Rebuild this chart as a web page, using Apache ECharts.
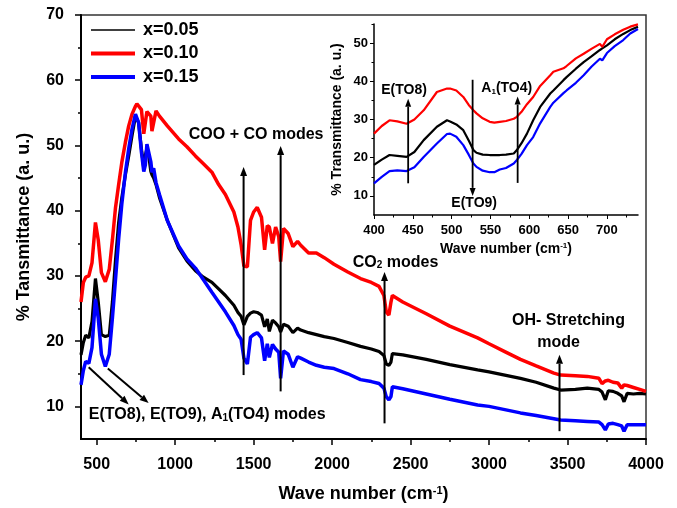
<!DOCTYPE html>
<html>
<head>
<meta charset="utf-8">
<script src="https://cdn.jsdelivr.net/npm/echarts@6/dist/echarts.min.js"></script>
<style>html,body{margin:0;padding:0;background:#fff}#c{width:677px;height:508px}</style>
</head>
<body>
<div id="c"></div>
<script>
// ---- Main spectrum (wave number, cm-1) ----
const wnMain = [400,415,430,450,470,492,510,530,555,580,600,620,640,660,683,704,725,747,756,767,785,800,810,820,831,845,852,863,878,900,950,1022,1075,1129,1180,1234,1277,1320,1374,1400,1420,1438,1460,1480,1500,1523,1550,1570,1587,1600,1620,1640,1660,1672,1690,1720,1750,1780,1800,1850,1900,1950,2012,2100,2181,2250,2299,2330,2345,2362,2375,2384,2450,2600,2750,2927,3000,3100,3200,3300,3413,3456,3550,3626,3700,3720,3741,3760,3790,3820,3845,3860,3880,3920,3960,4000];
const t005 = [17.9,19.8,20.9,20.5,23.0,29.6,26.0,21.0,20.7,20.9,26.0,32.5,38.2,42.0,45.5,48.4,51.5,54.5,54.8,53.5,49.5,46.5,48.5,49.5,48.5,46.0,45.5,45.0,44.0,42.0,38.5,34.3,32.3,30.8,29.8,29.0,28.0,27.0,25.5,24.4,23.8,22.5,23.8,24.3,24.5,24.4,24.0,22.2,23.4,21.5,23.2,22.8,22.2,21.4,22.6,22.3,21.3,22.0,21.7,21.3,21.0,20.7,20.4,19.8,19.2,18.8,18.4,17.8,16.5,16.3,16.8,18.1,17.9,17.2,16.4,15.6,15.3,14.8,14.3,13.7,12.8,12.5,12.6,12.8,12.6,12.2,11.0,12.4,12.3,12.0,11.6,10.7,12.0,11.9,12.0,11.9];
const t010 = [26.0,29.0,29.8,30.0,32.0,38.2,35.5,30.5,29.1,31.0,35.5,40.5,44.0,47.4,50.5,53.0,54.8,56.0,56.4,56.6,55.5,51.8,52.0,55.2,55.5,54.5,52.2,52.0,55.3,54.5,53.0,51.0,49.8,48.4,47.2,45.9,44.0,42.5,39.8,37.5,34.8,31.5,31.4,38.5,39.8,40.5,39.0,34.0,37.7,37.5,35.0,37.5,36.0,32.2,37.3,36.5,34.5,35.3,34.7,33.5,33.5,32.8,31.8,30.6,29.6,29.0,28.4,27.0,24.5,24.0,26.0,27.0,26.0,24.2,22.3,20.5,19.6,18.4,17.2,16.2,15.1,14.8,14.7,14.6,14.3,13.5,13.9,14.0,13.7,13.6,12.8,13.3,13.2,12.9,12.6,12.3];
const t015 = [13.3,15.5,16.9,16.6,19.0,26.5,23.5,18.0,16.1,18.0,23.5,29.5,35.7,41.0,45.9,49.5,52.5,54.8,55.0,53.5,49.0,46.0,47.0,50.2,49.9,47.5,45.9,46.5,44.3,42.5,38.5,34.6,32.6,31.2,29.4,27.5,26.0,24.5,22.4,21.0,20.3,17.4,16.5,20.6,21.0,21.3,20.5,17.0,19.6,17.5,19.5,18.8,18.3,14.3,18.5,18.0,16.0,17.6,17.4,16.8,16.3,16.0,15.8,15.0,14.1,13.8,13.5,12.8,11.5,11.0,11.5,13.0,12.7,11.9,11.1,10.2,10.0,9.5,9.0,8.6,8.1,7.9,7.8,7.7,7.6,7.2,6.4,7.3,7.4,7.2,7.0,6.2,7.2,7.2,7.2,7.2];

// ---- Inset (400-740 cm-1) ----
const wnInset = [400,410,420,430,442,452,464,481,494,498,506,515,522,528,532,540,549,555,562,570,580,584,590,597,605,614,627,631,644,648,660,670,680,691,694,700,710,721,730,740];
const in005 = [18.1,19.5,20.7,20.5,20.2,21.5,24.6,28.1,29.8,29.5,28.7,27.2,24.5,22.0,21.3,20.8,20.7,20.7,20.7,20.8,21.1,22.0,23.8,26.3,29.8,33.3,36.8,37.6,40.3,41.1,43.3,45.0,46.5,48.2,48.6,49.4,51.0,52.4,53.4,54.3];
const in010 = [26.3,28.3,29.8,29.5,28.9,30.0,32.4,37.2,38.1,38.1,37.6,35.9,33.8,32.4,31.6,30.3,29.4,29.2,29.4,29.6,30.2,30.7,32.0,34.0,35.9,38.8,41.6,42.5,43.4,44.0,46.0,47.2,48.5,49.8,49.0,51.0,52.3,53.5,54.3,54.9];
const in015 = [13.3,15.0,16.5,16.7,16.5,17.5,20.2,23.7,26.2,26.3,25.5,23.3,20.8,18.5,17.6,16.6,16.2,16.2,16.9,17.3,18.5,19.4,21.0,23.3,25.4,29.0,33.3,34.4,36.9,37.6,39.6,41.6,43.8,45.9,45.5,47.4,49.2,50.8,52.5,53.7];

// ---- Tick values ----
const mainXLabels = [500,1000,1500,2000,2500,3000,3500,4000];
const mainXMinor = [750,1250,1750,2250,2750,3250,3750];
const mainYLabels = [10,20,30,40,50,60,70];
const mainYMinor = [15,25,35,45,55,65];
const insetXLabels = [400,450,500,550,600,650,700];
const insetXMinor = [425,475,525,575,625,675,725];
const insetYLabels = [10,20,30,40,50];
const insetYMinor = [15,25,35,45,55];

const seriesNames = ['x=0.05','x=0.10','x=0.15'];
const seriesColors = ['#000000','#ff0000','#0000ff'];

const FONT = '"Liberation Sans", Arial, sans-serif';
const pair = (xs, ys) => xs.map((x, i) => [x, ys[i]]);
const plain = v => String(v);

const chart = echarts.init(document.getElementById('c'), null, {renderer: 'canvas'});

function richFor(size) {
  return {
    a: {fontFamily: FONT, fontWeight: 'bold', fontSize: size, color: '#000'},
    sup: {fontFamily: FONT, fontWeight: 'bold', fontSize: Math.round(size * 0.6), color: '#000', verticalAlign: 'top'},
    sub: {fontFamily: FONT, fontWeight: 'bold', fontSize: Math.round(size * 0.6), color: '#000', verticalAlign: 'bottom'}
  };
}

const option = {
  backgroundColor: '#fff',
  animation: false,
  grid: [
    {left: 81, right: 31, top: 15, bottom: 67, show: true, borderColor: '#333', borderWidth: 1.5, backgroundColor: 'transparent'},
    {left: 374, right: 39, top: 24, bottom: 293}
  ],
  legend: {
    orient: 'vertical', left: 84, top: 16, itemWidth: 44, itemHeight: 14, itemGap: 5.5,
    textStyle: {fontFamily: FONT, fontWeight: 'bold', fontSize: 18, color: '#000', lineHeight: 18, padding: [0,0,0,3]},
    data: [
      {name: seriesNames[0], lineStyle: {width: 1.5}, itemStyle: {opacity: 0}},
      {name: seriesNames[1], lineStyle: {width: 4}, itemStyle: {opacity: 0}},
      {name: seriesNames[2], lineStyle: {width: 4}, itemStyle: {opacity: 0}}
    ]
  },
  xAxis: [
    {
      type: 'value', gridIndex: 0, min: 400, max: 4000,
      axisLine: {show: true, lineStyle: {color: '#000', width: 2}}, splitLine: {show: false},
      name: '{a|Wave number (cm}{sup|-1}{a|)}', nameLocation: 'middle', nameGap: 46,
      nameTextStyle: {fontFamily: FONT, fontWeight: 'bold', fontSize: 18, color: '#000', rich: richFor(18)},
      axisTick: {show: true, length: 6, lineStyle: {width: 1.5, color: '#000'}, customValues: mainXLabels},
      axisLabel: {margin: 18, fontFamily: FONT, fontWeight: 'bold', fontSize: 16, color: '#000', customValues: mainXLabels, formatter: plain}
    },
    {
      type: 'value', gridIndex: 0, min: 400, max: 4000, position: 'bottom',
      axisLine: {show: false}, splitLine: {show: false}, axisLabel: {show: false},
      axisTick: {show: true, length: 3, lineStyle: {width: 1.5, color: '#000'}, customValues: mainXMinor}
    },
    {
      type: 'value', gridIndex: 1, min: 400, max: 740,
      axisLine: {show: true, lineStyle: {color: '#000', width: 1.5}}, splitLine: {show: false},
      name: '{a|Wave number (cm}{sup|-1}{a|)}', nameLocation: 'middle', nameGap: 27,
      nameTextStyle: {fontFamily: FONT, fontWeight: 'bold', fontSize: 14, color: '#000', rich: richFor(14)},
      axisTick: {show: true, length: 4, lineStyle: {width: 1, color: '#000'}, customValues: insetXLabels},
      axisLabel: {margin: 9, fontFamily: FONT, fontWeight: 'bold', fontSize: 13, color: '#000', customValues: insetXLabels, formatter: plain}
    },
    {
      type: 'value', gridIndex: 1, min: 400, max: 740, position: 'bottom',
      axisLine: {show: false}, splitLine: {show: false}, axisLabel: {show: false},
      axisTick: {show: true, length: 2.5, lineStyle: {width: 1, color: '#000'}, customValues: insetXMinor}
    }
  ],
  yAxis: [
    {
      type: 'value', gridIndex: 0, min: 5, max: 70,
      axisLine: {show: true, lineStyle: {color: '#000', width: 2}}, splitLine: {show: false},
      name: '% Tansmittance (a. u.)', nameLocation: 'middle', nameGap: 48,
      nameTextStyle: {fontFamily: FONT, fontWeight: 'bold', fontSize: 18, color: '#000'},
      axisTick: {show: true, length: 6, lineStyle: {width: 1.5, color: '#000'}, customValues: mainYLabels},
      axisLabel: {margin: 17, fontFamily: FONT, fontWeight: 'bold', fontSize: 16, color: '#000', customValues: mainYLabels, formatter: plain}
    },
    {
      type: 'value', gridIndex: 0, min: 5, max: 70, position: 'left', offset: 0,
      axisLine: {show: false}, splitLine: {show: false}, axisLabel: {show: false},
      axisTick: {show: true, length: 3, lineStyle: {width: 1.5, color: '#000'}, customValues: mainYMinor}
    },
    {
      type: 'value', gridIndex: 1, min: 5, max: 55,
      axisLine: {show: true, lineStyle: {color: '#000', width: 1.5}}, splitLine: {show: false},
      name: '% Transmittance (a. u.)', nameLocation: 'middle', nameGap: 30,
      nameTextStyle: {fontFamily: FONT, fontWeight: 'bold', fontSize: 14, color: '#000'},
      axisTick: {show: true, length: 4, lineStyle: {width: 1, color: '#000'}, customValues: insetYLabels},
      axisLabel: {margin: 6, fontFamily: FONT, fontWeight: 'bold', fontSize: 13, color: '#000', customValues: insetYLabels, formatter: plain}
    },
    {
      type: 'value', gridIndex: 1, min: 5, max: 55, position: 'left', offset: 0,
      axisLine: {show: false}, splitLine: {show: false}, axisLabel: {show: false},
      axisTick: {show: true, length: 2.5, lineStyle: {width: 1, color: '#000'}, customValues: insetYMinor}
    }
  ],
  series: [
    {name: seriesNames[0], type: 'line', xAxisIndex: 0, yAxisIndex: 0, symbol: 'none', data: pair(wnMain, t005), lineStyle: {color: seriesColors[0], width: 3.2}, itemStyle: {color: seriesColors[0]}, z: 2},
    {name: seriesNames[1], type: 'line', xAxisIndex: 0, yAxisIndex: 0, symbol: 'none', data: pair(wnMain, t010), lineStyle: {color: seriesColors[1], width: 3.5}, itemStyle: {color: seriesColors[1]}, z: 3},
    {name: seriesNames[2], type: 'line', xAxisIndex: 0, yAxisIndex: 0, symbol: 'none', data: pair(wnMain, t015), lineStyle: {color: seriesColors[2], width: 3.5}, itemStyle: {color: seriesColors[2]}, z: 4},
    {name: seriesNames[0], type: 'line', xAxisIndex: 2, yAxisIndex: 2, symbol: 'none', data: pair(wnInset, in005), lineStyle: {color: seriesColors[0], width: 2.2}, itemStyle: {color: seriesColors[0]}, z: 2},
    {name: seriesNames[1], type: 'line', xAxisIndex: 2, yAxisIndex: 2, symbol: 'none', data: pair(wnInset, in010), lineStyle: {color: seriesColors[1], width: 2.2}, itemStyle: {color: seriesColors[1]}, z: 3},
    {name: seriesNames[2], type: 'line', xAxisIndex: 2, yAxisIndex: 2, symbol: 'none', data: pair(wnInset, in015), lineStyle: {color: seriesColors[2], width: 2.2}, itemStyle: {color: seriesColors[2]}, z: 4}
  ]
};
chart.setOption(option);

// ---- Annotations (anchored in data coordinates) ----
const mainArrows = [
  [[1436, 14.8], [1436, 46.7]],
  [[1672, 12.3], [1672, 49.9]],
  [[2334, 7.4], [2334, 30.6]],
  [[3449, 6.2], [3449, 17.9]],
  [[449, 16.0], [704, 10.3]],
  [[571, 15.8], [831, 10.5]]
];
const insetArrows = [
  [[444, 13.3], [444, 35.4]],
  [[585, 13.4], [585, 36.0]],
  [[527, 40.4], [527, 10.0]]
];
const mainTexts = [
  {at: [1516, 51.7], text: '{a|COO + CO modes}'},
  {at: [2404, 32.1], text: '{a|CO}{sub|2}{a| modes}'},
  {at: [3506, 23.1], text: '{a|OH- Stretching}'},
  {at: [3443, 19.8], text: '{a|mode}'},
  {at: [1204, 8.7], text: '{a|E(TO8), E(TO9), A}{sub|1}{a|(TO4) modes}'}
];
const insetTexts = [
  {at: [438.7, 37.8], text: '{a|E(TO8)}'},
  {at: [571, 38.1], text: '{a|A}{sub|1}{a|(TO4)}'},
  {at: [529, 8.1], text: '{a|E(TO9)}'}
];

function arrowGraphics(p0, p1, headLen, headHalf, width) {
  const dx = p1[0] - p0[0], dy = p1[1] - p0[1];
  const L = Math.sqrt(dx * dx + dy * dy);
  const ux = dx / L, uy = dy / L;
  const bx = p1[0] - ux * headLen, by = p1[1] - uy * headLen;
  return [
    {type: 'line', shape: {x1: p0[0], y1: p0[1], x2: bx, y2: by}, style: {stroke: '#000', lineWidth: width}, z: 50},
    {type: 'polygon', shape: {points: [[p1[0], p1[1]], [bx - uy * headHalf, by + ux * headHalf], [bx + uy * headHalf, by - ux * headHalf]]}, style: {fill: '#000'}, z: 50}
  ];
}

const g = [];
const mf = {xAxisIndex: 0, yAxisIndex: 0};
const inf = {xAxisIndex: 2, yAxisIndex: 2};
mainArrows.forEach(a => {
  g.push(...arrowGraphics(chart.convertToPixel(mf, a[0]), chart.convertToPixel(mf, a[1]), 9, 3.5, 2));
});
insetArrows.forEach(a => {
  g.push(...arrowGraphics(chart.convertToPixel(inf, a[0]), chart.convertToPixel(inf, a[1]), 8, 3, 1.8));
});
mainTexts.forEach(t => {
  const p = chart.convertToPixel(mf, t.at);
  g.push({type: 'text', x: p[0], y: p[1], z: 60, style: {text: t.text, align: 'center', verticalAlign: 'middle', rich: richFor(16)}});
});
insetTexts.forEach(t => {
  const p = chart.convertToPixel(inf, t.at);
  g.push({type: 'text', x: p[0], y: p[1], z: 60, style: {text: t.text, align: 'center', verticalAlign: 'middle', rich: richFor(14)}});
});
chart.setOption({graphic: g});
</script>
</body>
</html>
